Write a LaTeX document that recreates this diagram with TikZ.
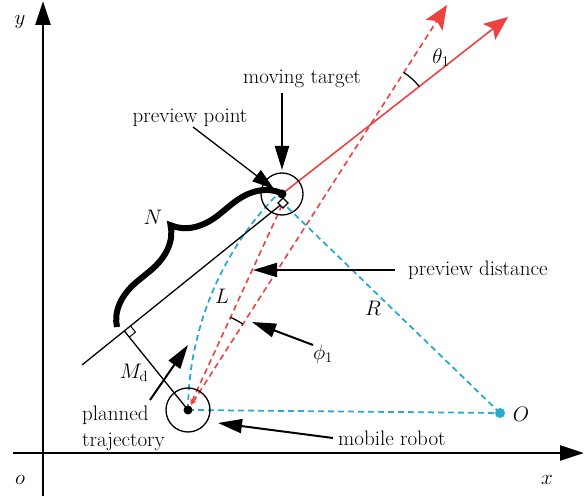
\RequirePackage{fix-cm}
\documentclass[tikz,border=0pt]{standalone}
\usetikzlibrary{arrows.meta,decorations.pathreplacing,angles,calc}
\definecolor{rd}{RGB}{236,66,66}
\definecolor{bl}{RGB}{40,172,205}
\begin{document}
\begin{tikzpicture}[x=1pt,y=1pt,
  lbl/.style={font=\fontsize{21}{25}\selectfont, inner sep=0pt},
  bigtip/.style={-{Triangle[length=24pt,width=14pt]}, line width=2pt},
  axis/.style={line width=2.8pt, -{Triangle[length=24pt,width=15pt]}},
  thin/.style={line width=1.3pt},
  bldash/.style={bl, line width=1.8pt, dash pattern=on 6pt off 4pt},
  rddash/.style={rd, line width=1.6pt, dash pattern=on 6pt off 4pt},
  redtip/.style={-{Stealth[length=24pt,width=20pt,inset=5pt]}},
]
\useasboundingbox (0,0) rectangle (586,496);
% key points
\coordinate (R) at (188,86);
\coordinate (O) at (500,83);
\coordinate (T) at (282,302);
\coordinate (P) at (283,293);
\coordinate (A) at (82,131);
\coordinate (F) at ($(A)!(R)!(P)$);
\coordinate (S) at (508,479);
\coordinate (D) at (447,491);
\coordinate (I) at (intersection of R--D and T--S);
% axes
\coordinate (xs) at (13,43);
\coordinate (xe) at (584,43);
\coordinate (ys) at (43,0);
\coordinate (ye) at (43,495);
\draw[axis] (xs) -- (xe);
\draw[axis] (ys) -- (ye);
\node[lbl] (ylab) at (20,474) {$y$};
\node[lbl] (olab) at (20,16) {$o$};
\node[lbl] (xlab) at (547,16) {$x$};
% blue dashed
\draw[bldash] (R) arc[start angle=179.45, end angle=135, radius=312];
\draw[bldash] (R) -- (O);
\draw[bldash] (O) -- (P);
\fill[bl] (O) circle (5);
\node[lbl] (Olab) at (521,82) {$O$};
\node[lbl] (Rlab) at (373,188) {$R$};
% red lines
\draw[rd, line width=1.6pt, redtip] (T) -- (S);
\coordinate (R1) at ($(R)!6pt!(D)$);
\coordinate (R2) at ($(R)!6pt!(P)$);
\draw[rddash, {Stealth[length=6pt,width=5pt]}-{Stealth[length=24pt,width=20pt,inset=5pt]}] (R1) -- (D);
\draw[rddash, {Stealth[length=6pt,width=5pt]}-] (R2) -- (P);
\pic[draw, line width=1.3pt, angle radius=62pt] {angle = S--I--D};
\pic[draw, line width=1.3pt, angle radius=102pt] {angle = D--R--P};
\node[lbl] (thlab) at (441,438) {$\theta_1$};
\node[lbl] (philab) at (323,142) {$\phi_1$};
\node[lbl] (Llab) at (222,200) {$L$};
% black geometry
\draw[thin] (A) -- (P);
\draw[thin] (F) -- (R);
\coordinate (F1) at ($(F)!8pt!(P)$);
\coordinate (F2) at ($(F)!8pt!(R)$);
\coordinate (F3) at ($(F1)+(F2)-(F)$);
\draw[line width=1pt] (F1) -- (F3) -- (F2);
\draw[thin] (T) circle (21);
\draw[thin] (R) circle (22);
\fill (R) circle (4.5);
\draw[line width=1.2pt, fill=white] (P) +(0,5) -- +(5,0) -- +(0,-5) -- +(-5,0) -- cycle;
\fill (T) circle (4.5);
% brace
\coordinate (B1) at (117,169);
\coordinate (B2) at (281,303);
\draw[line width=6pt, decorate, decoration={brace, amplitude=45pt}] (B1) -- (B2);
\node[lbl] (Nlab) at (153,279) {$N$};
\node[lbl] (Mlab) at (134,123) {$M_{\mathrm{d}}$};
% labels with arrows
\node[lbl, anchor=base] (mt) at (302,412) {moving target};
\coordinate (mtA) at (282,403);
\coordinate (mtB) at (282,326);
\draw[bigtip] (mtA) -- (mtB);
\node[lbl, anchor=base] (pp) at (190,373) {preview point};
\coordinate (ppA) at (193,369);
\coordinate (ppB) at (274,307);
\draw[thin, -{Triangle[length=22pt,width=14pt]}] (ppA) -- (ppB);
\node[lbl, anchor=base west] (pd) at (408,221) {preview distance};
\coordinate (pdA) at (395,226);
\coordinate (pdB) at (253,226);
\draw[bigtip] (pdA) -- (pdB);
\coordinate (phA) at (313,151);
\coordinate (phB) at (252,174);
\draw[bigtip] (phA) -- (phB);
\node[lbl, anchor=base west] (pl) at (82,76) {planned};
\node[lbl, anchor=base west] (tr) at (82,50) {trajectory};
\coordinate (plA) at (150,96);
\coordinate (plB) at (188,151);
\draw[bigtip] (plA) -- (plB);
\node[lbl, anchor=base west] (mr) at (338,51) {mobile robot};
\coordinate (mrA) at (333,58);
\coordinate (mrB) at (218,73);
\draw[bigtip] (mrA) -- (mrB);
\end{tikzpicture}
\end{document}
